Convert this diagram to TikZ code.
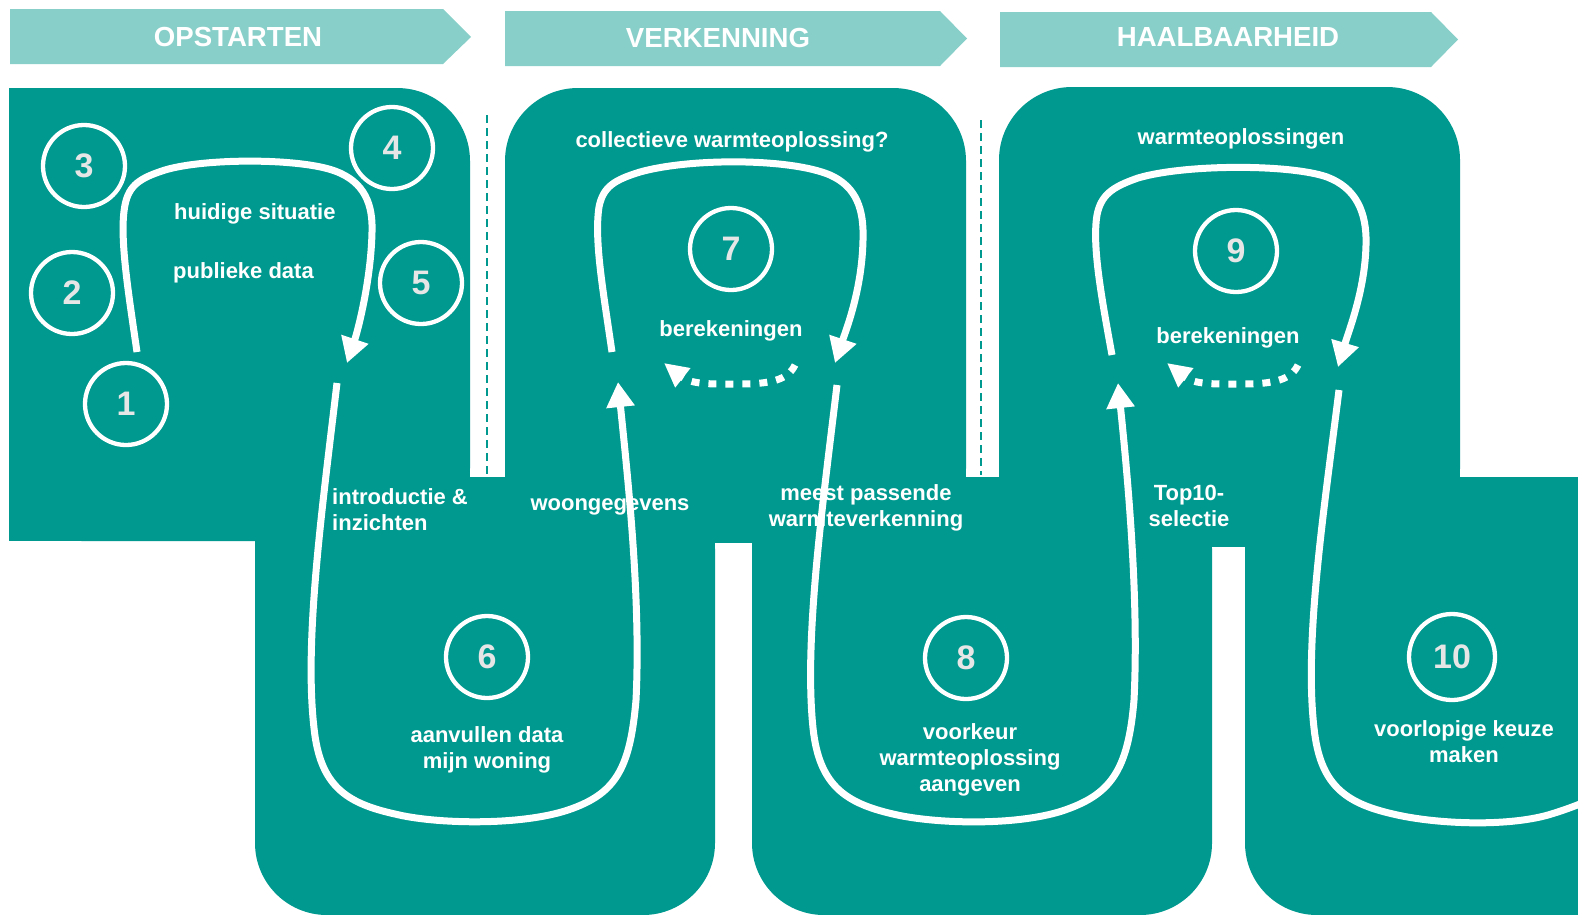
\documentclass[tikz,border=0pt]{standalone}
\usepackage{fontspec}
\setmainfont{Liberation Sans}
\usetikzlibrary{arrows.meta}
\definecolor{tealmain}{HTML}{00998F}
\definecolor{teallight}{HTML}{88CFC9}
\definecolor{numgray}{HTML}{E6E6E6}
\begin{document}
\begin{tikzpicture}[x=1pt,y=-1pt,
  lbl/.style={text=white, font=\fontsize{22}{26}\selectfont\bfseries, inner sep=0pt, text height=16pt, text depth=0pt},
  lblm/.style={text=white, font=\fontsize{22}{26}\selectfont\bfseries, inner sep=0pt},
  hdr/.style={text=white, font=\fontsize{27.6}{30}\selectfont\bfseries, inner sep=0pt},
  num/.style={circle, draw=white, line width=4.3pt, minimum size=82pt, inner sep=0pt, text=numgray, font=\fontsize{34}{34}\selectfont\bfseries},
  loopline/.style={draw=white, line width=7pt},
  bigtip/.style={-{Triangle[width=27pt,length=25pt]}},
  dotloop/.style={draw=white, line width=7pt, dash pattern=on 8pt off 9pt, -{Triangle[width=23pt,length=24pt]}},
  divider/.style={draw=tealmain, line width=1.5pt, dash pattern=on 8pt off 5pt},
  panel/.style={fill=tealmain},
  headarrow/.style={fill=teallight}
]
\useasboundingbox (0,0) rectangle (1578,914);
\begin{scope}
\clip (0,0) rectangle (1578,914);
% header arrows
\fill[headarrow] (10,9) -- (443,9) -- (471,37) -- (443,64) -- (10,64) -- cycle;
\fill[headarrow] (505,11) -- (940,11) -- (967,38.5) -- (940,66) -- (505,66) -- cycle;
\fill[headarrow] (1000,12) -- (1431,12) -- (1458,39.5) -- (1431,67) -- (1000,67) -- cycle;
% upper panels
\fill[panel, rounded corners=73pt] (9,88) rectangle (470,541);
\fill[panel] (9,88) rectangle (300,400);
\fill[panel] (9,300) rectangle (470,541);
\fill[panel, rounded corners=73pt] (505,88) rectangle (966,541);
\fill[panel] (505,300) rectangle (966,541);
\fill[panel, rounded corners=73pt] (999,87) rectangle (1460,541);
\fill[panel] (999,300) rectangle (1460,541);
% band
\fill[panel] (9,477) rectangle (1578,540);
\fill[panel] (715,530) rectangle (752,543);
\fill[panel] (1212,530) rectangle (1245,547);
% lower columns
\fill[panel, rounded corners=72pt] (255,477) rectangle (715,915);
\fill[panel] (255,477) rectangle (715,700);
\fill[panel, rounded corners=72pt] (752,477) rectangle (1212,915);
\fill[panel] (752,477) rectangle (1212,700);
\fill[panel, rounded corners=72pt] (1245,477) rectangle (1700,915);
\fill[panel] (1245,477) rectangle (1700,700);
% dividers
\coordinate (d1a) at (487,115); \coordinate (d1b) at (487,475);
\coordinate (d2a) at (981,120); \coordinate (d2b) at (981,475);
\draw[divider] (d1a) -- (d1b);
\draw[divider] (d2a) -- (d2b);
% loops
\coordinate (s1) at (137,352); \coordinate (e1) at (347,363);
\draw[loopline,bigtip] (s1) .. controls (128,290) and (119,235) .. (125,205) .. controls (129,185) and (140,178) .. (165,170) .. controls (205,158) and (300,158) .. (335,171) .. controls (365,182) and (373,205) .. (372,232) .. controls (371,280) and (358,330) .. (e1);
\coordinate (s6) at (337,383); \coordinate (e6) at (618,382);
\draw[loopline,bigtip] (s6) .. controls (322,510) and (304,640) .. (314,728) .. controls (320,785) and (345,803) .. (395,814) .. controls (435,824) and (520,826) .. (568,810) .. controls (615,794) and (630,770) .. (636,700) .. controls (641,600) and (628,480) .. (e6);
\coordinate (s7) at (612,352); \coordinate (e7) at (835,363);
\draw[loopline,bigtip] (s7) .. controls (603,290) and (594,240) .. (599,207) .. controls (603,187) and (614,180) .. (640,172) .. controls (690,158) and (790,158) .. (830,175) .. controls (857,187) and (864,210) .. (863,240) .. controls (862,290) and (846,330) .. (e7);
\coordinate (s8) at (837,385); \coordinate (e8) at (1118,383);
\draw[loopline,bigtip] (s8) .. controls (822,510) and (804,640) .. (813,728) .. controls (819,785) and (845,803) .. (893,814) .. controls (935,824) and (1015,826) .. (1062,811) .. controls (1110,795) and (1128,772) .. (1134,700) .. controls (1139,600) and (1128,480) .. (e8);
\coordinate (s9) at (1112,355); \coordinate (e9) at (1338,367);
\draw[loopline,bigtip] (s9) .. controls (1101,295) and (1092,245) .. (1097,215) .. controls (1101,195) and (1112,187) .. (1138,178) .. controls (1185,164) and (1290,164) .. (1327,177) .. controls (1356,188) and (1367,212) .. (1366,245) .. controls (1365,290) and (1349,330) .. (e9);
\coordinate (s10) at (1339,390); \coordinate (e10) at (1610,790);
\draw[loopline] (s10) .. controls (1324,510) and (1304,640) .. (1314,728) .. controls (1320,785) and (1345,803) .. (1393,814) .. controls (1435,824) and (1505,827) .. (1548,815) .. controls (1575,807) and (1595,798) .. (e10);
% dotted feedback arrows
\coordinate (ds7) at (795,365); \coordinate (de7) at (664,363);
\draw[dotloop] (ds7) .. controls (788,380) and (770,384) .. (740,384) .. controls (715,384) and (692,385) .. (de7);
\coordinate (ds9) at (1298,365); \coordinate (de9) at (1167,363);
\draw[dotloop] (ds9) .. controls (1291,380) and (1273,384) .. (1243,384) .. controls (1218,384) and (1195,385) .. (de9);
\end{scope}
% header texts
\node[hdr] (h1) at (238,37) {OPSTARTEN};
\node[hdr] (h2) at (718,37.5) {VERKENNING};
\node[hdr] (h3) at (1228,37.5) {HAALBAARHEID};
% circles
\node[num] (c1) at (126,404) {1};
\node[num] (c2) at (72,293) {2};
\node[num] (c3) at (84,166) {3};
\node[num] (c4) at (392,148) {4};
\node[num] (c5) at (421,283) {5};
\node[num] (c6) at (487,657) {6};
\node[num] (c7) at (731,249) {7};
\node[num] (c8) at (966,658) {8};
\node[num] (c9) at (1236,251) {9};
\node[num, minimum size=86pt] (c10) at (1452,657) {10};
% labels
\node[lbl, anchor=west] (t1) at (174,211) {huidige situatie};
\node[lbl, anchor=west] (t2) at (173,270) {publieke data};
\node[lblm, anchor=west, align=left] (t3) at (332,509.5) {introductie \&\\inzichten};
\node[lbl] (t4) at (610,502) {woongegevens};
\node[lbl] (t5) at (732,139) {collectieve warmteoplossing?};
\node[lbl] (t6) at (731,328) {berekeningen};
\node[lblm, align=center] (t7) at (866,508) {meest passende\\warmteverkenning};
\node[lblm, align=center] (t8) at (487,750) {aanvullen data\\mijn woning};
\node[lblm, align=center] (t9) at (970,760) {voorkeur\\warmteoplossing\\aangeven};
\node[lblm, align=center] (t10) at (1189,506) {Top10-\\selectie};
\node[lbl] (t11) at (1241,136) {warmteoplossingen};
\node[lbl] (t12) at (1228,335) {berekeningen};
\node[lblm, align=center] (t13) at (1464,741.5) {voorlopige keuze\\maken};
\end{tikzpicture}
\end{document}
